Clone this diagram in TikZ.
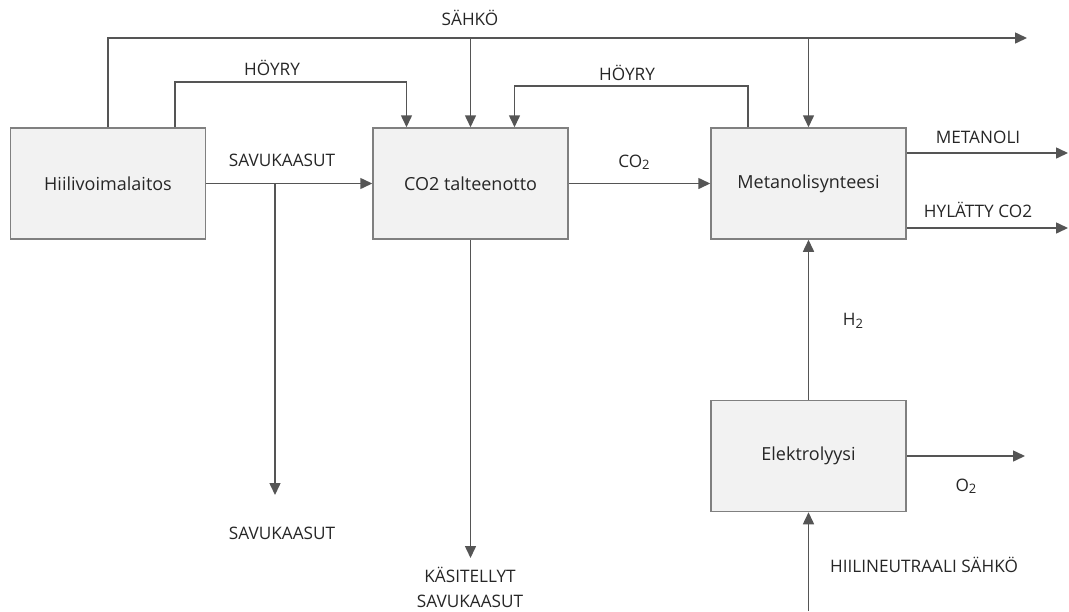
\documentclass[tikz,border=0pt]{standalone}
\usepackage{fontspec}
\setmainfont{Open Sans}
\usetikzlibrary{arrows.meta}
\definecolor{boxfill}{HTML}{F2F2F2}
\definecolor{boxline}{HTML}{808080}
\definecolor{flowline}{HTML}{555555}
\definecolor{txt}{HTML}{262626}
\begin{document}
\begin{tikzpicture}[x=0.5pt,y=-0.5pt]

% one picture pixel is half a point
\def\bw{97.5pt}
\def\bh{55.5pt}
% node style definition
\tikzstyle{block} = [
	draw=boxline, fill=boxfill, rectangle, line width=0.75pt,
	minimum width=\bw, minimum height=\bh,
	font=\fontsize{9}{11}\selectfont, text=txt ];
\tikzstyle{lbl} = [draw=none, fill=none, inner sep=0pt,
	font=\fontsize{8.6}{10.5}\selectfont, text=txt, align=center];
\tikzstyle{arr} = [draw=flowline, line width=0.75pt,
	-{Triangle[length=6pt,width=5.5pt]}];
\newcommand{\lowtwo}{\raisebox{-0.25ex}{\fontsize{6.5}{7}\selectfont 2}}

\useasboundingbox (0,0) rectangle (1069,611);

% blocks
\node[block] (hiili) at (108,183.5) {Hiilivoimalaitos};
\node[block] (talteen) at (470.5,183.5) {CO2 talteenotto};
\node[block] (meta) at (808.5,183.5) {Metanolisynteesi};
\node[block] (elek) at (808.5,456) {Elektrolyysi};

% free ends
\coordinate (sahkoEnd) at (1027,38);
\coordinate (hoyryA) at (175,82);
\coordinate (hoyryB) at (748,86);
\coordinate (savuEnd) at (275,495);
\coordinate (kasiEnd) at (470.5,558);
\coordinate (metaEnd) at (1068,153);
\coordinate (hylEnd) at (1068,228);
\coordinate (happiEnd) at (1025,456);
\coordinate (neutIn) at (808.5,611);

% electricity
\draw[arr] (hiili.north) |- (sahkoEnd);
\draw[arr] (talteen.north |- sahkoEnd) -- (talteen.north);
\draw[arr] (meta.north |- sahkoEnd) -- (meta.north);

% steam
\draw[arr] (hiili.north -| hoyryA) -- (hoyryA) -| ([xshift=-32pt]talteen.north);
\draw[arr] (meta.north -| hoyryB) -- (hoyryB) -| ([xshift=22pt]talteen.north);

% flue gas
\draw[arr] (hiili.east) -- (talteen.west);
\draw[arr] (hiili.east -| savuEnd) -- (savuEnd);
\draw[arr] (talteen.south) -- (kasiEnd);

% methanol side
\draw[arr] (talteen.east) -- (meta.west);
\draw[arr] (meta.east |- metaEnd) -- (metaEnd);
\draw[arr] (meta.east |- hylEnd) -- (hylEnd);
\draw[arr] (elek.north) -- (meta.south);
\draw[arr] (elek.east) -- (happiEnd);
\draw[arr] (neutIn) -- (elek.south);

% labels
\node[lbl] (lSahko) at (470,18) {SÄHKÖ};
\node[lbl] (lHoyryA) at (272,68) {HÖYRY};
\node[lbl] (lHoyryB) at (627,73) {HÖYRY};
\node[lbl] (lSavu) at (282,160) {SAVUKAASUT};
\node[lbl] (lCo) at (634,162) {CO\lowtwo};
\node[lbl] (lMeta) at (978,137) {METANOLI};
\node[lbl] (lHyl) at (978,210) {HYLÄTTY CO2};
\node[lbl] (lVety) at (853,321) {H\lowtwo};
\node[lbl] (lHappi) at (966,486) {O\lowtwo};
\node[lbl] (lNeut) at (924,565) {HIILINEUTRAALI SÄHKÖ};
\node[lbl] (lSavuB) at (282,533) {SAVUKAASUT};
\node[lbl] (lKasi) at (470,587) {KÄSITELLYT\\[2pt]SAVUKAASUT};

\end{tikzpicture}
\end{document}
